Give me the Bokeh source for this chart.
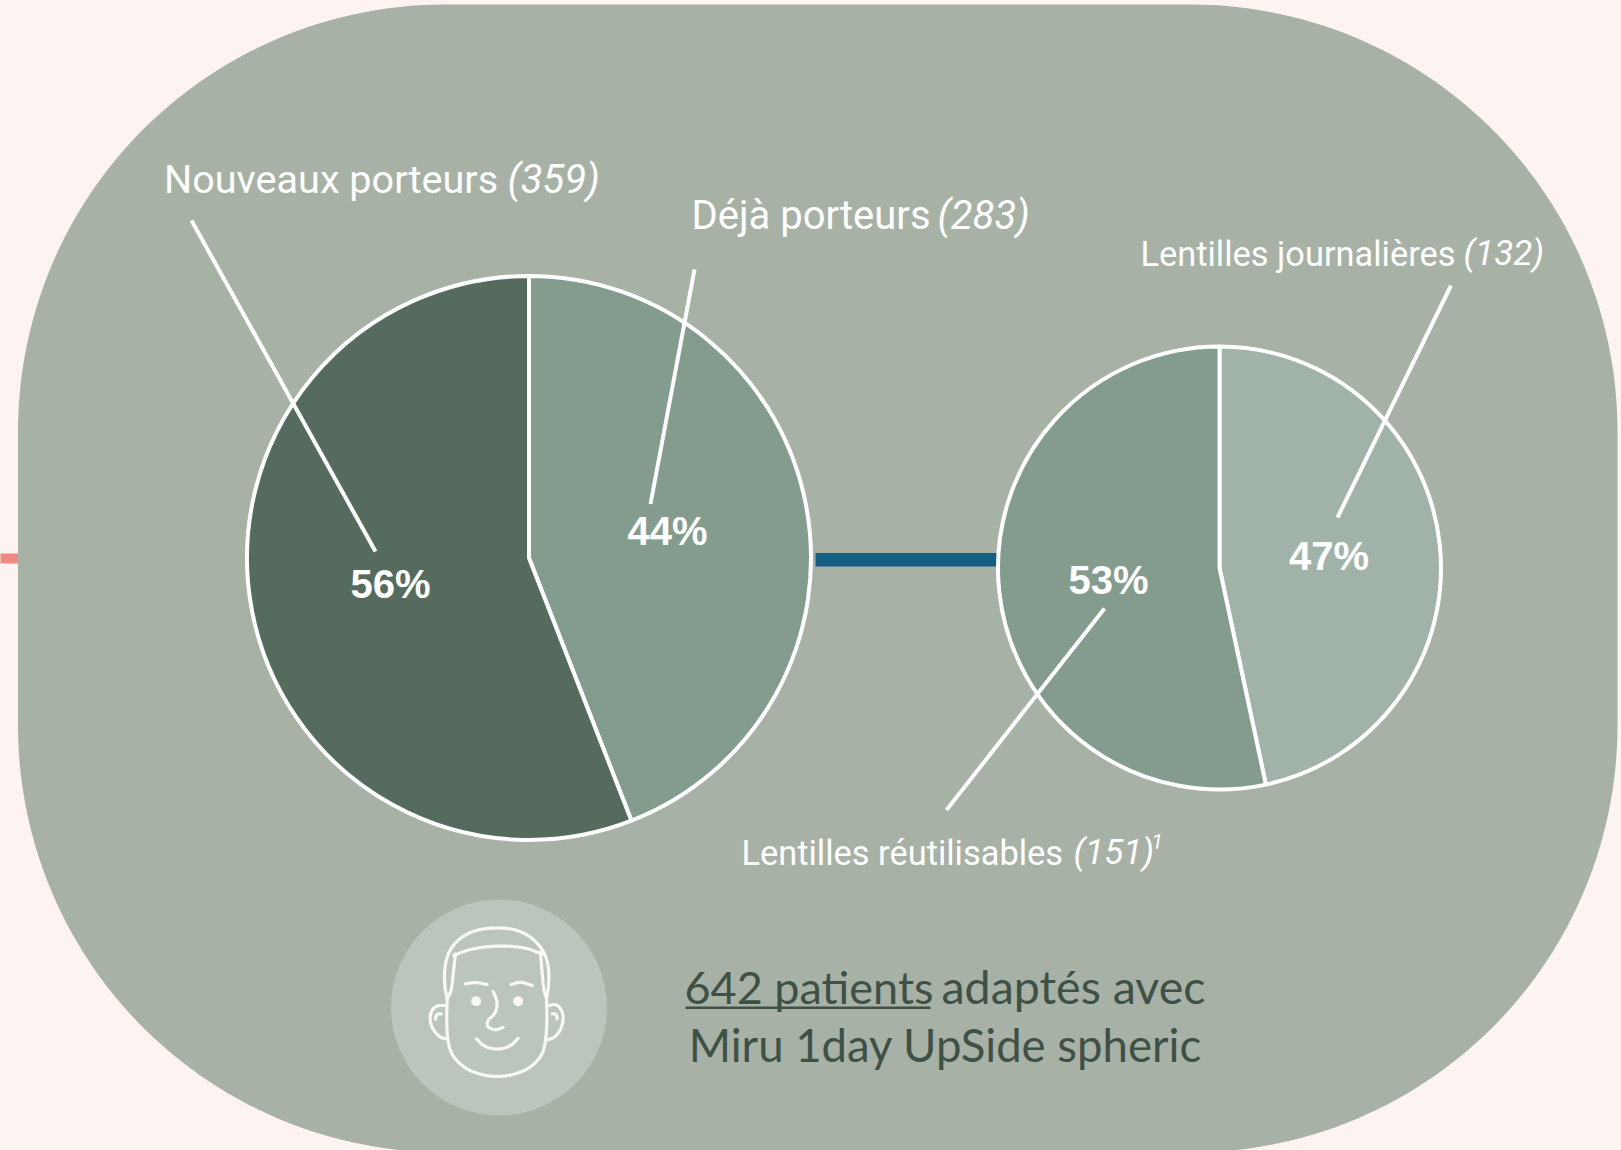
import numpy as np
from bokeh.embed import file_html
from bokeh.resources import INLINE
from bokeh.plotting import figure
from bokeh.models import Range1d
from bokeh.core.properties import value

# ---- data ----
left_names = ["Déjà porteurs", "Nouveaux porteurs"]
left_counts = [283, 359]
left_pcts = ["44%", "56%"]
right_names = ["Lentilles journalières", "Lentilles réutilisables"]
right_counts = [132, 151]
right_pcts = ["47%", "53%"]
left_colors = ["#839C8D", "#556B5D"]
right_colors = ["#A1B3A8", "#839C8D"]
headline_a = "642 patients"
headline_b = "adaptés avec"
headline_c = "Miru 1day UpSide spheric"

W, H = 1621, 1150
PAGE, PANEL, DARK = "#FDF3F1", "#A8B1A6", "#3F5046"
LABEL_FONT = value("Roboto")
BASE_SHIFT = 0.4


def Y(v):
    return H - np.asarray(v, dtype=float)


p = figure(width=W, height=H, x_range=Range1d(0, W), y_range=Range1d(0, H),
           output_backend="svg", toolbar_location=None, min_border=0,
           background_fill_color=PAGE, border_fill_color=PAGE, outline_line_color=None)
p.axis.visible = False
p.grid.visible = False

# rounded panel
x0, x1, y0, y1, r = 17.5, 1617, 4, 1152, 427
t = np.linspace(0, np.pi / 2, 60)
px = np.concatenate([x0 + r - r * np.cos(t), x1 - r + r * np.sin(t),
                     x1 - r + r * np.cos(t), x0 + r - r * np.sin(t)])
py = np.concatenate([y0 + r - r * np.sin(t), y0 + r - r * np.cos(t),
                     y1 - r + r * np.sin(t), y1 - r + r * np.cos(t)])
p.patch(px, Y(py), fill_color=PANEL, line_color=None)

# side stub and connector
p.quad(left=[-5], right=[17.5], top=Y([553]), bottom=Y([563]), fill_color="#EF8A82", line_color=None)
p.quad(left=[815], right=[1000], top=Y([552.5]), bottom=Y([566]), fill_color="#156082", line_color=None)


def pie(cx, cy, radius, counts, colors):
    frac = np.cumsum([0] + list(counts)) / sum(counts)
    ang = np.pi / 2 - 2 * np.pi * frac
    p.wedge(x=[cx] * len(counts), y=list(Y([cy] * len(counts))), radius=radius,
            start_angle=list(ang[:-1]), end_angle=list(ang[1:]), direction="clock",
            fill_color=colors, line_color="white", line_width=4)


pie(528.5, 557.5, 282, left_counts, left_colors)
pie(1219, 567.5, 221.5, right_counts, right_colors)

# leaders
leaders_x = [[191, 375], [694, 650], [1450.5, 1337], [1104, 946]]
leaders_y = [[220, 551], [269, 503.5], [285, 517], [608, 809.5]]
p.multi_line(leaders_x, [list(Y(v)) for v in leaders_y], line_color="white", line_width=4)


def text(x, y, s, size, color="white", font=LABEL_FONT, style="normal", align="left"):
    p.text(x=[x], y=list(Y([y - BASE_SHIFT * size])), text=[s], text_font=font,
           text_font_size=f"{size}px", text_font_style=style, text_color=color,
           text_align=align, text_baseline="alphabetic")


# outer labels
text(163.5, 194.5, left_names[1], 39.6)
text(507, 194.5, f"({left_counts[1]})", 40, style="italic")
text(691, 230.5, left_names[0], 40)
text(937, 230.5, f"({left_counts[0]})", 40, style="italic")
text(1140, 267, right_names[0], 34.4)
text(1463, 267, f"({right_counts[0]})", 35, style="italic")
text(741, 866, right_names[1], 34.4)
text(1073, 866, f"({right_counts[1]})", 35, style="italic")
text(1151, 849, "1", 21, style="italic")

# percentages
BOLD = value("Liberation Sans")
for (cx, cy, s) in [(390, 599, left_pcts[1]), (667, 546, left_pcts[0]),
                    (1108, 595.5, right_pcts[1]), (1328.5, 571, right_pcts[0])]:
    text(cx, cy, s, 40, font=BOLD, style="bold", align="center")

# badge with face
p.circle(x=[498.5], y=list(Y([1007])), radius=108, fill_color="#BCC5BD", line_color=None)


def chaikin(pts, n=3):
    a = np.array(pts, dtype=float)
    for _ in range(n):
        q = 0.75 * a[:-1] + 0.25 * a[1:]
        s = 0.25 * a[:-1] + 0.75 * a[1:]
        b = np.empty((2 * len(q), 2))
        b[0::2], b[1::2] = q, s
        a = np.vstack([a[0], b, a[-1]])
    return a


face_paths = [
    [(80, 205), (72, 165), (72, 110), (85, 60), (120, 20), (170, -3), (230, -9), (290, -3), (340, 25),
     (372, 65), (385, 110), (385, 165), (378, 205)],
    [(100, 75), (150, 55), (230, 45), (310, 50), (365, 70)],
    [(105, 70), (98, 130), (93, 180), (80, 205)],
    [(360, 65), (365, 130), (370, 180), (378, 205)],
    [(80, 205), (78, 270), (82, 340), (100, 385), (150, 425), (230, 442), (310, 425), (360, 385),
     (375, 340), (380, 270), (378, 205)],
    [(72, 225), (45, 225), (28, 250), (30, 285), (55, 320), (78, 325)],
    [(45, 265), (48, 250), (62, 250)],
    [(385, 225), (410, 220), (430, 250), (425, 290), (405, 320), (382, 328)],
    [(410, 265), (408, 250), (395, 250)],
    [(135, 160), (165, 155), (200, 162)],
    [(272, 162), (300, 153), (335, 165)],
    [(218, 183), (232, 215), (225, 250), (200, 270), (200, 290), (225, 300), (248, 290)],
    [(168, 325), (190, 348), (230, 358), (270, 348), (293, 323)],
]
fx, fy = [], []
for path in face_paths:
    c = chaikin(path)
    fx.append(list(c[:, 0] / 3 + 420))
    fy.append(list(Y(c[:, 1] / 3 + 930)))
p.multi_line(fx, fy, line_color="#F8F9F6", line_width=3.2, line_cap="round")
p.circle(x=[420 + 167 / 3, 420 + 293 / 3], y=list(Y([930 + 212 / 3] * 2)), radius=5,
         fill_color="#F8F9F6", line_color=None)

# headline
LATO = value("Lato")
text(684, 1004, headline_a, 45, color=DARK, font=LATO)
p.quad(left=[685], right=[930], top=Y([1006]), bottom=Y([1008.5]), fill_color=DARK, line_color=None)
text(941, 1004, headline_b, 46.5, color=DARK, font=LATO)
text(945, 1062, headline_c, 45.5, color=DARK, font=LATO, align="center")

html = file_html(p, INLINE, "Miru 1day UpSide spheric")
html = html.replace("<body>", f'<body style="margin:0;background:{PAGE};overflow:hidden">')
open("out.html", "w").write(html)
